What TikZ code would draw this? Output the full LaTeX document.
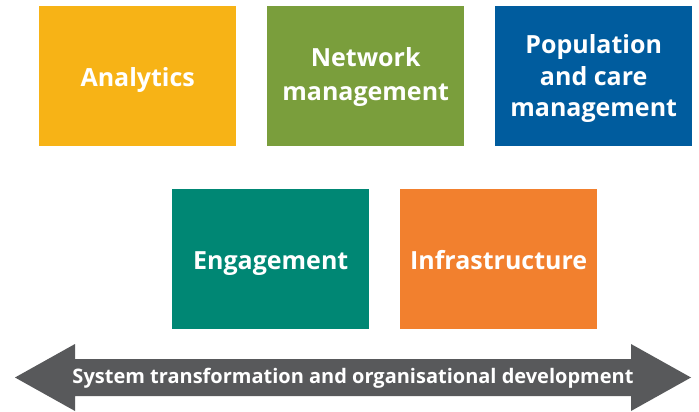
\documentclass[tikz,border=0pt]{standalone}
\usepackage{fontspec}
\setmainfont{Open Sans}
\definecolor{cAna}{HTML}{F7B316}
\definecolor{cNet}{HTML}{7A9E3C}
\definecolor{cPop}{HTML}{005C9E}
\definecolor{cEng}{HTML}{008774}
\definecolor{cInf}{HTML}{F2802E}
\definecolor{cArr}{HTML}{58595B}
\begin{document}
\begin{tikzpicture}[x=1pt,y=-1pt,
  box/.style={minimum width=197pt,minimum height=140pt,inner sep=0pt,anchor=north west},
  lbl/.style={text=white,font=\fontsize{25}{31}\selectfont\bfseries,inner sep=0pt,anchor=base}]
\useasboundingbox (0,0) rectangle (699,412);
% boxes
\node[box,fill=cAna] (ana) at (39,6) {};
\node[box,fill=cNet] (net) at (267,6) {};
\node[box,fill=cPop] (pop) at (495,6) {};
\node[box,fill=cEng] (eng) at (172,189) {};
\node[box,fill=cInf] (inf) at (400,189) {};
% labels (one node per printed line)
\node[lbl] (anaA) at (ana.center |- 0,86) {Analytics};
\node[lbl] (netA) at (net.center |- 0,66.7) {Network};
\node[lbl] (netB) at (net.center |- 0,100) {management};
\node[lbl] (popA) at (pop.center |- 0,53.5) {Population};
\node[lbl] (popB) at (pop.center |- 0,85) {and care};
\node[lbl] (popC) at (pop.center |- 0,116.7) {management};
\node[lbl] (engA) at (eng.center |- 0,269) {Engagement};
\node[lbl] (infA) at (inf.center |- 0,269) {Infrastructure};
% double arrow
\fill[cArr] (15,377.5) -- (75,344) -- (75,359) -- (631,359) -- (631,344) -- (691,377.5)
  -- (631,411) -- (631,396) -- (75,396) -- (75,411) -- cycle;
\node[text=white,font=\fontsize{20}{24}\selectfont\bfseries,inner sep=0pt,anchor=base] (bar) at (353,383)
  {System transformation and organisational development};
\end{tikzpicture}
\end{document}
